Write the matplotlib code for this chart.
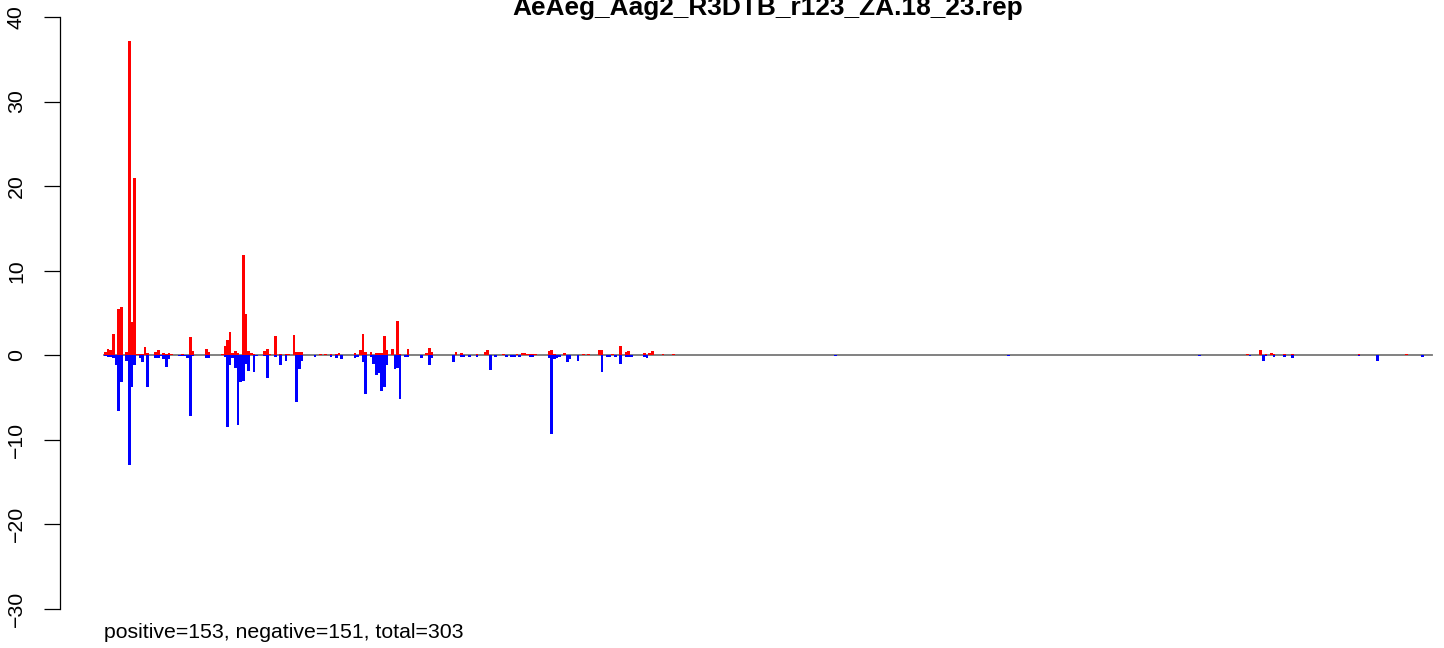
import numpy as np
import matplotlib
matplotlib.use('Agg')
import matplotlib.pyplot as plt

plt.rcParams['font.family'] = ['Liberation Sans', 'DejaVu Sans']

TITLE = 'AeAeg_Aag2_R3DTB_r123_ZA.18_23.rep'
N_POS = 500

# positions with positive (red) signal and their values
pos_idx = [0, 1, 2, 3, 5, 6, 8, 9, 10, 11, 12, 13, 14, 15, 16, 19, 20, 22, 23, 24,
           25, 29, 32, 33, 38, 39, 44, 45, 46, 47, 48, 49, 50, 52, 53, 54, 55, 56, 60, 61,
           62, 64, 66, 68, 69, 71, 72, 73, 74, 81, 83, 85, 87, 88, 94, 96, 97, 98, 100, 102,
           103, 104, 105, 106, 108, 110, 111, 114, 121, 122, 123, 132, 134, 140, 143, 144, 150, 155, 157, 158,
           159, 160, 161, 162, 167, 168, 169, 173, 180, 182, 186, 187, 191, 194, 196, 197, 203, 205, 206, 210,
           214, 250, 301, 366, 430, 435, 437, 439, 440, 444, 447, 460, 472, 490]
pos_val = [0.35, 0.7, 0.6, 2.5, 5.45, 5.7, 0.4, 37.2, 3.9, 21.0, 0.2, 0.1, 0.1, 0.95, 0.3, 0.4, 0.6, 0.3, 0.2, 0.3,
           0.2, 0.2, 2.15, 0.5, 0.8, 0.4, 0.2, 1.1, 1.8, 2.8, 0.3, 0.5, 0.3, 11.8, 4.9, 0.5, 0.3, 0.2, 0.5, 0.7,
           0.2, 2.3, 0.2, 0.2, 0.2, 2.35, 0.4, 0.4, 0.4, 0.1, 0.1, 0.1, 0.2, 0.3, 0.3, 0.6, 2.5, 0.4, 0.4, 0.3,
           0.3, 0.3, 2.25, 0.6, 0.7, 4.0, 0.15, 0.75, 0.3, 0.85, 0.4, 0.4, 0.3, 0.1, 0.4, 0.65, 0.1, 0.2, 0.3, 0.3,
           0.2, 0.2, 0.2, 0.2, 0.5, 0.65, 0.2, 0.3, 0.2, 0.2, 0.65, 0.65, 0.2, 1.1, 0.4, 0.5, 0.3, 0.3, 0.5, 0.2,
           0.1, 0.05, 0.05, 0.05, 0.1, 0.6, 0.1, 0.3, 0.2, 0.2, 0.2, 0.05, 0.2, 0.2]

# positions with negative (blue) signal and their values
neg_idx = [0, 1, 2, 3, 4, 5, 6, 8, 9, 10, 11, 13, 14, 16, 19, 20, 21, 22, 23, 24,
           28, 29, 30, 31, 32, 33, 38, 39, 45, 46, 47, 48, 49, 50, 51, 52, 53, 54, 56, 57,
           60, 61, 64, 66, 68, 72, 73, 74, 79, 85, 87, 89, 94, 95, 97, 98, 100, 101, 102, 103,
           104, 105, 106, 109, 110, 111, 113, 114, 119, 122, 123, 131, 134, 135, 137, 140, 145, 147, 151, 153,
           154, 156, 160, 161, 167, 168, 169, 170, 171, 174, 175, 178, 187, 189, 190, 192, 194, 196, 197, 198,
           203, 204, 275, 340, 412, 431, 436, 437, 440, 444, 447, 472, 479, 496]
neg_val = [-0.1, -0.15, -0.25, -0.35, -1.2, -6.6, -3.2, -0.7, -13.0, -3.8, -1.2, -0.35, -0.8, -3.8, -0.35, -0.35, -0.1, -0.45, -1.4, -0.45,
           -0.1, -0.1, -0.1, -0.35, -7.2, -0.1, -0.35, -0.35, -0.2, -8.5, -1.1, -0.35, -1.5, -8.3, -3.1, -3.0, -1.0, -1.8, -2.0, -0.1,
           -0.1, -2.7, -0.2, -1.1, -0.7, -5.5, -1.6, -0.65, -0.2, -0.2, -0.3, -0.4, -0.3, -0.15, -0.75, -4.55, -0.15, -1.0, -2.3, -2.1,
           -4.2, -3.8, -1.1, -1.6, -1.5, -5.2, -0.15, -0.15, -0.3, -1.1, -0.3, -0.85, -0.2, -0.2, -0.15, -0.2, -1.75, -0.2, -0.2, -0.2,
           -0.2, -0.2, -0.2, -0.2, -0.3, -9.3, -0.4, -0.3, -0.15, -0.75, -0.4, -0.65, -1.95, -0.2, -0.2, -0.2, -1.0, -0.2, -0.2, -0.2,
           -0.2, -0.3, -0.05, -0.05, -0.05, -0.1, -0.7, -0.1, -0.15, -0.15, -0.35, -0.1, -0.7, -0.15]

y_ticks = [-30, -20, -10, 0, 10, 20, 30, 40]
summary = 'positive=153, negative=151, total=303'

pos = np.zeros(N_POS)
neg = np.zeros(N_POS)
pos[pos_idx] = pos_val
neg[neg_idx] = neg_val
x = np.arange(N_POS)

W, H = 1444, 648
fig = plt.figure(figsize=(W / 100, H / 100), dpi=100)
ax_l, ax_r, ax_t, ax_b = 60, 1440, 17, 609
ax = fig.add_axes([ax_l / W, 1 - ax_b / H, (ax_r - ax_l) / W, (ax_b - ax_t) / H])

bar_l, bar_r = 104, 1432
s = (bar_r - bar_l) / N_POS
xmin = -0.5 - (bar_l - ax_l) / s
ax.set_xlim(xmin, xmin + (ax_r - ax_l) / s)
ax.set_ylim(-30, 40)

ax.plot([-0.5, N_POS - 0.5], [0, 0], color='#777777', lw=1.3, zorder=1)
ax.bar(x, pos, width=1.0, color='#ff0000', linewidth=0, antialiased=False, zorder=2)
ax.bar(x, neg, width=1.0, color='#0000ff', linewidth=0, antialiased=False, zorder=2)

for sp in ['top', 'right', 'bottom']:
    ax.spines[sp].set_visible(False)
ax.spines['left'].set_bounds(-30, 40)
ax.spines['left'].set_linewidth(0.9)
ax.set_xticks([])
ax.set_yticks(y_ticks)
ax.tick_params(axis='y', direction='out', length=11.5, width=0.9, labelsize=15.3,
               pad=13, labelrotation=90)
for lab in ax.get_yticklabels():
    lab.set_va('center')

fig.text(767.5 / W, 1 - 15 / H, TITLE, ha='center', va='baseline',
         fontsize=18.9, fontweight='bold')
fig.text(104 / W, 1 - 632 / H, summary, ha='left', va='center', fontsize=15.3)

fig.savefig('out.png', dpi=100)
